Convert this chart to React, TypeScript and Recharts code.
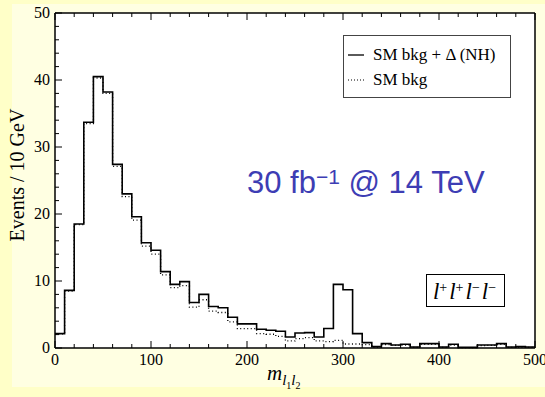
import { LineChart, Line, XAxis, YAxis } from "recharts";

const SERIF = '"Liberation Serif", "Times New Roman", serif';
const SANS = '"Liberation Sans", Arial, sans-serif';

// lower edge of each 10 GeV bin
const binLow = [
  0, 10, 20, 30, 40, 50, 60, 70, 80, 90,
  100, 110, 120, 130, 140, 150, 160, 170, 180, 190,
  200, 210, 220, 230, 240, 250, 260, 270, 280, 290,
  300, 310, 320, 330, 340, 350, 360, 370, 380, 390,
  400, 410, 420, 430, 440, 450, 460, 470, 480, 490,
];

// SM bkg + Delta (NH)
const sigPlusBkg = [
  2.15, 8.6, 18.5, 33.7, 40.5, 38.2, 27.4, 23.0, 19.6, 15.7,
  14.6, 11.4, 9.5, 9.9, 6.8, 8.0, 6.2, 6.0, 4.6, 3.6,
  3.6, 2.8, 2.65, 2.5, 1.65, 2.25, 2.3, 1.65, 2.9, 9.5,
  8.7, 2.15, 0.8, 0.2, 0.65, 0.45, 0.55, 0.15, 0.65, 0.65,
  0.15, 0.55, 0.1, 0.1, 0.45, 0.45, 0.65, 0.15, 0.2, 0.15,
];

// SM bkg only
const smBkg = [
  2.1, 8.5, 18.4, 33.5, 40.3, 38.0, 27.1, 22.6, 19.1, 15.2,
  14.0, 10.9, 9.0, 9.3, 6.1, 7.2, 5.5, 5.3, 3.9, 2.9,
  2.9, 2.15, 2.05, 1.75, 1.05, 1.4, 1.55, 1.05, 0.95, 1.15,
  0.6, 0.6, 0.5, 0.15, 0.5, 0.4, 0.45, 0.1, 0.55, 0.55,
  0.1, 0.45, 0.05, 0.05, 0.35, 0.4, 0.55, 0.1, 0.15, 0.1,
];

const xTicks = [
  0, 20, 40, 60, 80, 100, 120, 140, 160, 180, 200, 220, 240,
  260, 280, 300, 320, 340, 360, 380, 400, 420, 440, 460, 480, 500,
];
const xLabels = [0, 100, 200, 300, 400, 500];
const yTicks = [
  0, 2, 4, 6, 8, 10, 12, 14, 16, 18, 20, 22, 24, 26,
  28, 30, 32, 34, 36, 38, 40, 42, 44, 46, 48, 50,
];
const yLabels = [0, 10, 20, 30, 40, 50];

const data = binLow.map((m, i) => ({ m, sig: sigPlusBkg[i], bkg: smBkg[i] }));
data.push({ m: 500, sig: sigPlusBkg[sigPlusBkg.length - 1], bkg: smBkg[smBkg.length - 1] });

const MAJOR = 7;
const MINOR = 4;

const BottomTick = ({ x, y, payload }: any) => {
  const major = xLabels.includes(payload.value);
  return (
    <g>
      <line x1={x} x2={x} y1={y} y2={y - (major ? MAJOR : MINOR)} stroke="#000" strokeWidth={1} />
      {major && (
        <text x={x} y={y + 17} textAnchor="middle" fontFamily={SERIF} fontSize={16} fill="#000">
          {payload.value}
        </text>
      )}
    </g>
  );
};

const TopTick = ({ x, y, payload }: any) => {
  const major = xLabels.includes(payload.value);
  return <line x1={x} x2={x} y1={y} y2={y + (major ? MAJOR : MINOR)} stroke="#000" strokeWidth={1} />;
};

const LeftTick = ({ x, y, payload }: any) => {
  const major = yLabels.includes(payload.value);
  return (
    <g>
      <line x1={x} x2={x + (major ? MAJOR : MINOR)} y1={y} y2={y} stroke="#000" strokeWidth={1} />
      {major && (
        <text x={x - 5} y={y + 5} textAnchor="end" fontFamily={SERIF} fontSize={16} fill="#000">
          {payload.value}
        </text>
      )}
    </g>
  );
};

const RightTick = ({ x, y, payload }: any) => {
  const major = yLabels.includes(payload.value);
  return <line x1={x} x2={x - (major ? MAJOR : MINOR)} y1={y} y2={y} stroke="#000" strokeWidth={1} />;
};

const axisLine = { stroke: "#000", strokeWidth: 1.5 };

const supStyle = { fontSize: 14, fontStyle: "normal" as const, verticalAlign: "top", position: "relative" as const, top: -4, marginRight: 2 };

export default function App() {
  return (
    <div style={{ position: "absolute", left: 0, top: 0, width: 545, height: 397, background: "#FFFFC8", overflow: "hidden" }}>
      <div style={{ position: "absolute", left: 12, top: 4, width: 533, height: 383, background: "#FFFFE2" }} />
      <div style={{ position: "absolute", left: 55, top: 13, width: 480, height: 335, background: "#fff" }} />
      <div style={{ position: "absolute", left: 0, top: 0 }}>
        <LineChart width={545} height={397} data={data} margin={{ top: 0, right: 0, bottom: 0, left: 0 }}>
          <XAxis
            dataKey="m"
            type="number"
            domain={[0, 500]}
            ticks={xTicks}
            interval={0}
            height={49}
            tickSize={0}
            tickMargin={0}
            tickLine={false}
            axisLine={axisLine}
            tick={(p: any) => <BottomTick {...p} />}
          />
          <XAxis
            xAxisId="top"
            orientation="top"
            dataKey="m"
            type="number"
            domain={[0, 500]}
            ticks={xTicks}
            interval={0}
            height={13}
            tickSize={0}
            tickMargin={0}
            tickLine={false}
            axisLine={axisLine}
            tick={(p: any) => <TopTick {...p} />}
          />
          <YAxis
            type="number"
            domain={[0, 50]}
            ticks={yTicks}
            interval={0}
            width={55}
            tickSize={0}
            tickMargin={0}
            tickLine={false}
            axisLine={axisLine}
            tick={(p: any) => <LeftTick {...p} />}
          />
          <YAxis
            yAxisId="right"
            orientation="right"
            type="number"
            domain={[0, 50]}
            ticks={yTicks}
            interval={0}
            width={10}
            tickSize={0}
            tickMargin={0}
            tickLine={false}
            axisLine={axisLine}
            tick={(p: any) => <RightTick {...p} />}
          />
          <Line
            dataKey="bkg"
            type="stepAfter"
            stroke="#000"
            strokeWidth={1.3}
            strokeDasharray="1 2.5"
            dot={false}
            activeDot={false}
            isAnimationActive={false}
          />
          <Line
            dataKey="sig"
            type="stepAfter"
            stroke="#000"
            strokeWidth={1.6}
            dot={false}
            activeDot={false}
            isAnimationActive={false}
          />
        </LineChart>
      </div>

      {/* axis titles */}
      <svg width={545} height={397} style={{ position: "absolute", left: 0, top: 0, pointerEvents: "none" }}>
        <text
          x={24}
          y={175}
          transform="rotate(-90 24 175)"
          textAnchor="middle"
          fontFamily={SERIF}
          fontSize={20}
          fill="#000"
        >
          Events / 10 GeV
        </text>
        <text x={267} y={380} fontFamily={SERIF} fontStyle="italic" fontSize={21} fill="#000">
          m
          <tspan fontSize={15} dy={5}>l</tspan>
          <tspan fontSize={10} fontStyle="normal" dy={4}>1</tspan>
          <tspan fontSize={15} dy={-4}>l</tspan>
          <tspan fontSize={10} fontStyle="normal" dy={4}>2</tspan>
        </text>
      </svg>

      {/* legend */}
      <div
        style={{
          position: "absolute",
          left: 343,
          top: 35,
          width: 168,
          height: 63,
          border: "1px solid #444",
          boxSizing: "border-box",
          background: "#fff",
          fontFamily: SERIF,
          fontSize: 17,
          color: "#000",
        }}
      >
        <div style={{ position: "absolute", left: 4, top: 9, display: "flex", alignItems: "center", whiteSpace: "nowrap" }}>
          <svg width={16} height={4} style={{ marginRight: 9 }}>
            <line x1={0} x2={16} y1={2} y2={2} stroke="#000" strokeWidth={1.3} />
          </svg>
          SM bkg + Δ (NH)
        </div>
        <div style={{ position: "absolute", left: 4, top: 34, display: "flex", alignItems: "center", whiteSpace: "nowrap" }}>
          <svg width={16} height={4} style={{ marginRight: 9 }}>
            <line x1={0} x2={16} y1={2} y2={2} stroke="#000" strokeWidth={1.2} strokeDasharray="1 2" />
          </svg>
          SM bkg
        </div>
      </div>

      {/* luminosity / energy */}
      <div
        style={{
          position: "absolute",
          left: 247,
          top: 164,
          fontFamily: SANS,
          fontSize: 31,
          color: "#3D3DB4",
          whiteSpace: "nowrap",
          lineHeight: "38px",
        }}
      >
        30 fb<sup style={{ fontSize: 21, verticalAlign: "top", position: "relative", top: -6 }}>−1</sup> @ 14 TeV
      </div>

      {/* channel box */}
      <div
        style={{
          position: "absolute",
          left: 426,
          top: 274,
          width: 79,
          height: 33,
          border: "1px solid #000",
          boxSizing: "border-box",
          background: "#fff",
          fontFamily: SERIF,
          fontStyle: "italic",
          fontSize: 23,
          color: "#000",
          display: "flex",
          alignItems: "center",
          justifyContent: "center",
          whiteSpace: "nowrap",
          paddingTop: 2,
        }}
      >
        l<sup style={supStyle}>+</sup>
        l<sup style={supStyle}>+</sup>
        l<sup style={supStyle}>−</sup>
        l<sup style={supStyle}>−</sup>
      </div>
    </div>
  );
}
